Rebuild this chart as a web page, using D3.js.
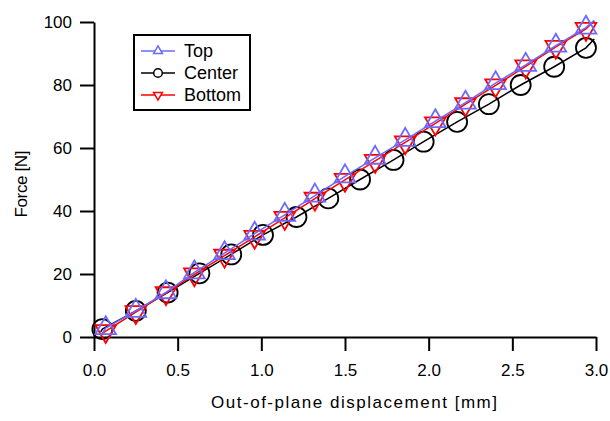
<!DOCTYPE html>
<html>
<head>
<meta charset="utf-8">
<script src="https://cdn.jsdelivr.net/npm/d3@7"></script>
<style>
  html, body { margin: 0; padding: 0; background: #fff; }
  svg text { font-family: "Liberation Sans", Arial, sans-serif; fill: #000; }
</style>
</head>
<body>
<svg id="chart" width="610" height="421"></svg>
<script>
// Force vs. out-of-plane displacement at three locations
const xTicks = [0, 0.5, 1.0, 1.5, 2.0, 2.5, 3.0];
const yTicks = [0, 20, 40, 60, 80, 100];

// Center: marker samples
const centerX = [0.05, 0.25, 0.44, 0.63, 0.82, 1.01, 1.21, 1.40, 1.59, 1.79, 1.97, 2.17, 2.36, 2.55, 2.75, 2.94];
const centerY = [2.5, 8.3, 14.1, 20.2, 26.2, 32.4, 38.1, 44.0, 50.0, 56.2, 62.0, 68.3, 73.9, 80.0, 85.8, 91.8];

// Top and Bottom share the same sampling positions
const edgeX = [0.07, 0.25, 0.43, 0.60, 0.78, 0.96, 1.14, 1.32, 1.50, 1.68, 1.86, 2.04, 2.22, 2.40, 2.58, 2.76, 2.94];
const topY = [2.8, 8.3, 14.2, 20.5, 26.6, 32.8, 38.8, 44.9, 51.0, 56.9, 62.6, 68.5, 74.4, 80.6, 86.4, 92.5, 98.2];
const bottomY = [1.9, 7.9, 13.9, 19.9, 25.8, 31.8, 37.8, 43.9, 49.9, 55.9, 61.8, 67.8, 73.9, 79.9, 85.9, 92.1, 97.8];

// First and last points of each recorded trace
const centerEnds = [[0.04, 1.6], [2.99, 94.6]];
const topEnds = [[0.05, 1.2], [2.99, 100.5]];
const bottomEnds = [[0.05, 1.0], [2.99, 100.3]];

const seriesNames = ["Top", "Center", "Bottom"];

const svg = d3.select("#chart");
const x = d3.scaleLinear().domain([0, 3]).range([94, 596]);
const y = d3.scaleLinear().domain([0, 100]).range([337, 22]);

// Axes
const xAxis = svg.append("g").attr("transform", `translate(0,${y(0)})`)
  .call(d3.axisBottom(x).tickValues(xTicks).tickFormat(d3.format(".1f")).tickSize(14).tickSizeOuter(0).tickPadding(13));
const yAxis = svg.append("g").attr("transform", `translate(${x(0)},0)`)
  .call(d3.axisLeft(y).tickValues(yTicks).tickSize(14).tickSizeOuter(0).tickPadding(8));
[xAxis, yAxis].forEach(a => {
  a.select(".domain").attr("stroke", "#000").attr("stroke-width", 2);
  a.selectAll(".tick line").attr("stroke", "#000").attr("stroke-width", 2);
  a.selectAll(".tick text").attr("font-size", 17).attr("font-family", "Liberation Sans, Arial, sans-serif");
});

// Axis titles
svg.append("text")
  .attr("x", 354).attr("y", 408)
  .attr("text-anchor", "middle").attr("font-size", 17)
  .attr("textLength", 286).attr("lengthAdjust", "spacing")
  .text("Out-of-plane displacement [mm]");
svg.append("text")
  .attr("transform", "translate(27,184) rotate(-90)")
  .attr("text-anchor", "middle").attr("font-size", 17)
  .attr("textLength", 67).attr("lengthAdjust", "spacing")
  .text("Force [N]");

const line = d3.line().x(d => x(d[0])).y(d => y(d[1]));
const tri = d3.symbol(d3.symbolTriangle, 185);

function drawSeries(xs, ys, ends, color, kind) {
  const pts = xs.map((v, i) => [v, ys[i]]);
  const trace = [ends[0], ...pts, ends[1]];
  const g = svg.append("g");
  g.append("path").datum(trace).attr("d", line)
    .attr("fill", "none").attr("stroke", color).attr("stroke-width", 1.5);
  const m = g.selectAll(".m").data(pts).enter();
  if (kind === "circle") {
    m.append("circle").attr("cx", d => x(d[0])).attr("cy", d => y(d[1])).attr("r", 10)
      .attr("fill", "none").attr("stroke", color).attr("stroke-width", 1.8);
  } else {
    m.append("path").attr("d", tri)
      .attr("transform", d => `translate(${x(d[0])},${y(d[1])})` + (kind === "down" ? " rotate(180)" : ""))
      .attr("fill", "none").attr("stroke", color).attr("stroke-width", 1.8);
  }
}

const blue = "#6a6aff", red = "#ff0000", black = "#000000";
drawSeries(centerX, centerY, centerEnds, black, "circle");
drawSeries(edgeX, bottomY, bottomEnds, red, "down");
drawSeries(edgeX, topY, topEnds, blue, "up");

// Legend
const leg = svg.append("g");
leg.append("rect").attr("x", 134).attr("y", 35).attr("width", 116).attr("height", 75)
  .attr("fill", "#fff").attr("stroke", "#000").attr("stroke-width", 2);
const legColors = [blue, black, red];
const legKinds = ["up", "circle", "down"];
const smallTri = d3.symbol(d3.symbolTriangle, 34);
seriesNames.forEach((name, i) => {
  const cy = 51 + i * 22;
  leg.append("line").attr("x1", 141).attr("x2", 175).attr("y1", cy).attr("y2", cy)
    .attr("stroke", legColors[i]).attr("stroke-width", 1.5);
  if (legKinds[i] === "circle") {
    leg.append("circle").attr("cx", 158).attr("cy", cy).attr("r", 4.3)
      .attr("fill", "#fff").attr("stroke", legColors[i]).attr("stroke-width", 1.5);
  } else {
    leg.append("path").attr("d", smallTri)
      .attr("transform", `translate(158,${cy})` + (legKinds[i] === "down" ? " rotate(180)" : ""))
      .attr("fill", "#fff").attr("stroke", legColors[i]).attr("stroke-width", 1.5);
  }
  leg.append("text").attr("x", 184).attr("y", cy).attr("dy", "0.36em")
    .attr("font-size", 18).text(name);
});
</script>
</body>
</html>
